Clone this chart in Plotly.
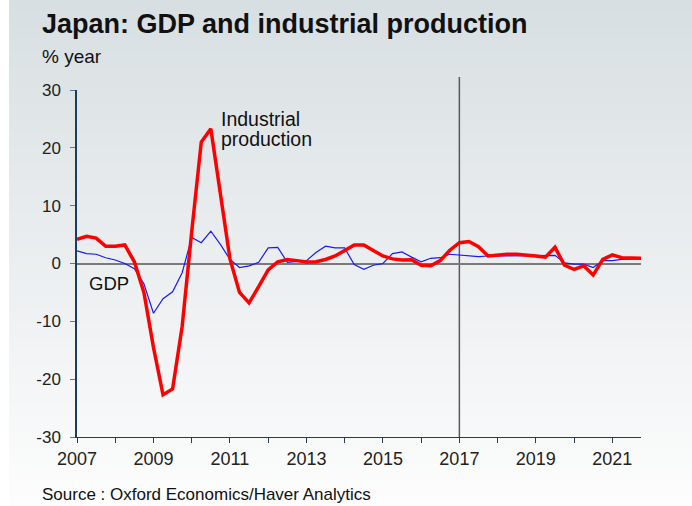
import base64
import struct
import zlib

import pandas as pd
import plotly.graph_objects as go

# Quarterly year-on-year growth, 2007Q1 - 2021Q4
quarters = pd.period_range("2007Q1", "2021Q4", freq="Q")

gdp = [
    2.2, 1.7, 1.6, 1.0, 0.6, 0.0, -0.9, -3.5, -8.6, -6.1,
    -4.9, -1.6, 4.5, 3.6, 5.6, 3.3, 0.7, -0.7, -0.4, 0.2,
    2.7, 2.8, 0.2, 0.4, 0.5, 1.9, 3.0, 2.7, 2.7, -0.2,
    -1.0, -0.3, 0.0, 1.7, 2.0, 1.1, 0.3, 0.9, 1.0, 1.6,
    1.5, 1.3, 1.2, 1.3, 1.3, 1.3, 1.3, 1.3, 1.3, 1.3,
    1.4, 0.1, -0.1, -0.1, -0.7, 0.5, 0.5, 0.7, 0.8, 0.8,
]

industrial_production = [
    4.2, 4.7, 4.4, 3.0, 3.0, 3.2, 0.3, -5.0, -14.5, -22.7,
    -21.7, -10.9, 5.5, 21.0, 23.3, 12.0, 0.8, -5.0, -6.8, -4.0,
    -1.1, 0.3, 0.7, 0.5, 0.25, 0.3, 0.7, 1.3, 2.3, 3.2,
    3.2, 2.2, 1.3, 0.8, 0.6, 0.65, -0.3, -0.4, 0.5, 2.3,
    3.6, 3.8, 2.9, 1.3, 1.5, 1.6, 1.6, 1.5, 1.3, 1.1,
    2.8, -0.3, -1.0, -0.4, -2.0, 0.7, 1.5, 1.0, 0.9, 0.9,
]

year_ticks = list(range(2007, 2022))
year_labels = [str(y) if y % 2 == 1 else "" for y in year_ticks]
y_ticks = [-30, -20, -10, 0, 10, 20, 30]
y_labels = [str(v) for v in y_ticks]

x_dates = [q.year + (q.quarter - 1) / 4 for q in quarters]

W, H = 692, 506
ML, MR, MT, MB = 77, 51, 90, 69
PW, PH = W - ML - MR, H - MT - MB


def px(x):
    return (x - ML) / PW


def py(y):
    return (H - MB - y) / PH


def gradient_png(w, h, top, bottom):
    raw = b""
    for r in range(h):
        t = r / (h - 1)
        c = bytes(int(round(a + (b - a) * t)) for a, b in zip(top, bottom))
        raw += b"\x00" + c * w

    def chunk(tag, data):
        return (struct.pack(">I", len(data)) + tag + data
                + struct.pack(">I", zlib.crc32(tag + data) & 0xFFFFFFFF))

    png = b"\x89PNG\r\n\x1a\n"
    png += chunk(b"IHDR", struct.pack(">IIBBBBB", w, h, 8, 2, 0, 0, 0))
    png += chunk(b"IDAT", zlib.compress(raw, 9))
    png += chunk(b"IEND", b"")
    return "data:image/png;base64," + base64.b64encode(png).decode()


FONT = "Liberation Sans, Arial, sans-serif"

fig = go.Figure()
fig.add_trace(go.Scatter(
    x=x_dates, y=gdp, mode="lines", name="GDP",
    line=dict(color="#1a1aff", width=1.2), hoverinfo="skip",
))
fig.add_trace(go.Scatter(
    x=x_dates, y=industrial_production, mode="lines",
    name="Industrial production",
    line=dict(color="#ff0000", width=3.5), hoverinfo="skip",
))

# 2017 marker line, running slightly above the top of the axis
fig.add_shape(type="line", xref="x", yref="paper",
              x0=2017, x1=2017, y0=0, y1=py(77),
              line=dict(color="#5a5a5a", width=1.5), layer="below")

fig.add_layout_image(dict(
    source=gradient_png(4, 128, (216, 223, 226), (253, 253, 253)),
    xref="paper", yref="paper", x=px(9), y=py(0),
    sizex=px(W) - px(9), sizey=py(0) - py(H),
    xanchor="left", yanchor="top", sizing="stretch", layer="below",
))

notes = [
    dict(text="<b>Japan: GDP and industrial production</b>", x=px(40), y=py(24), size=27),
    dict(text="% year", x=px(40), y=py(56), size=19),
    dict(text="Source : Oxford Economics/Haver Analytics", x=px(40), y=py(494), size=17),
    dict(text="Industrial", x=px(219), y=py(119), size=19.5),
    dict(text="production", x=px(219), y=py(139), size=19.5),
    dict(text="GDP", x=px(87), y=py(283), size=18.5),
]
for n in notes:
    fig.add_annotation(text=n["text"], xref="paper", yref="paper",
                       x=n["x"], y=n["y"], xanchor="left", yanchor="middle",
                       showarrow=False,
                       font=dict(family=FONT, size=n["size"], color="#111111"))

fig.update_layout(
    width=W, height=H,
    margin=dict(l=ML, r=MR, t=MT, b=MB, pad=0),
    paper_bgcolor="white",
    plot_bgcolor="rgba(0,0,0,0)",
    showlegend=False,
    font=dict(family=FONT, size=18, color="#222222"),
    xaxis=dict(
        range=[2007, 2021.75], tickvals=year_ticks, ticktext=year_labels,
        showgrid=False, zeroline=False, showline=True,
        linecolor="#2a3a4a", linewidth=1.3,
        ticks="outside", ticklen=5, tickcolor="#2a3a4a", tickwidth=1.2,
        tickfont=dict(size=18), fixedrange=True,
    ),
    yaxis=dict(
        range=[-30, 30], tickvals=y_ticks, ticktext=y_labels,
        showgrid=False, zeroline=True, zerolinecolor="#7a7a7a", zerolinewidth=1.6,
        showline=True, linecolor="#1c3d5e", linewidth=1.5,
        ticks="outside", ticklen=5, tickcolor="#5b7a95", tickwidth=1.2,
        tickfont=dict(size=17), ticklabelstandoff=6, fixedrange=True,
    ),
)

fig.write_html("out.html")
